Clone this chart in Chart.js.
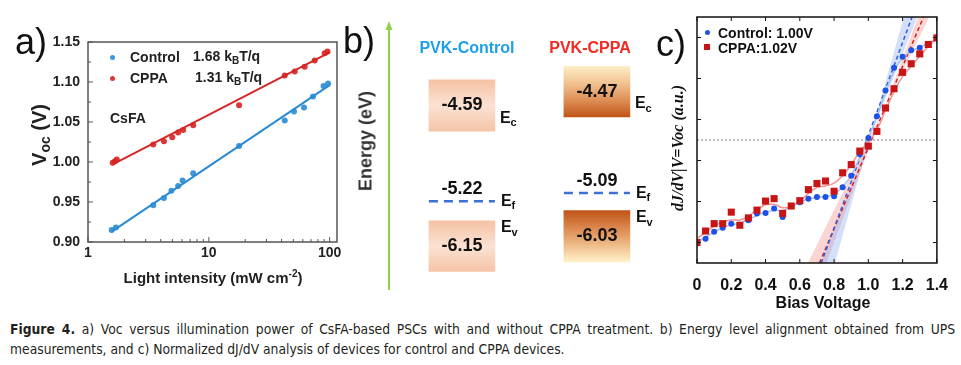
<!DOCTYPE html>
<html><head><meta charset="utf-8">
<script src="https://cdn.jsdelivr.net/npm/chart.js@4.4.0/dist/chart.umd.min.js"></script>
<style>
html,body{margin:0;padding:0;background:#fff;}
#wrap{position:relative;width:961px;height:365px;overflow:hidden;font-family:"Liberation Sans",Arial,sans-serif;color:#222;}
canvas{position:absolute;}
.t{position:absolute;white-space:nowrap;line-height:normal;}
.cap{position:absolute;left:10px;white-space:nowrap;line-height:normal;font-family:"Liberation Sans Narrow","DejaVu Sans Condensed","Liberation Sans",sans-serif;font-size:14px;color:#231f20;}
</style></head><body>
<div id="wrap">
<canvas id="ca" width="345" height="300" style="left:0;top:0"></canvas>
<canvas id="cb" width="330" height="300" style="left:340px;top:0"></canvas>
<canvas id="cc" width="301" height="320" style="left:660px;top:0"></canvas>
<div id="cap1" class="cap" style="top:321px"><b>Figure 4.</b> a) Voc versus illumination power of CsFA-based PSCs with and without CPPA treatment. b) Energy level alignment obtained from UPS</div>
<div id="cap2" class="cap" style="top:341px">measurements, and c) Normalized dJ/dV analysis of devices for control and CPPA devices.</div>
</div>
<script>
// ---------- Panel a data: Voc vs light intensity ----------
const ctrlIntensity = [1.57, 1.70, 3.47, 4.25, 4.90, 5.57, 6.06, 7.42, 17.8, 42.5, 50.7, 61.3, 72.8, 89, 97];
const ctrlVoc       = [0.915, 0.918, 0.946, 0.955, 0.964, 0.970, 0.977, 0.986, 1.020, 1.052, 1.063, 1.068, 1.082, 1.095, 1.098];
const cppaIntensity = [1.60, 1.67, 1.73, 3.47, 4.25, 4.98, 5.57, 6.13, 7.42, 17.8, 42.5, 51.4, 62.1, 75.2, 91, 96];
const cppaVoc       = [0.999, 1.001, 1.003, 1.022, 1.026, 1.031, 1.037, 1.040, 1.046, 1.071, 1.108, 1.113, 1.119, 1.127, 1.136, 1.138];
const ctrlFitI = [1.57, 100], ctrlFitV = [0.913, 1.096];
const cppaFitI = [1.60, 100], cppaFitV = [0.997, 1.137];
const intensityTickLabels = [1, 10, 100];

// ---------- Panel b data: energy levels ----------
const devices = ['PVK-Control', 'PVK-CPPA'];
const devicePos = [0.5, 1.5];
const ecValues = [-4.59, -4.47];
const efValues = [-5.22, -5.09];
const evValues = [-6.15, -6.03];
// schematic drawing levels (diagram scale)
const ecBoxTop = [-4.56, -4.43], ecBoxBottom = [-5.06, -4.92];
const efLevel  = [-5.74, -5.66];
const evBoxTop = [-5.93, -5.83], evBoxBottom = [-6.42, -6.33];

// ---------- Panel c data: dJ/dV ----------
const biasVoltage = [0,0.05,0.10,0.15,0.20,0.25,0.30,0.35,0.40,0.45,0.50,0.55,0.60,0.65,0.70,0.75,0.80,0.85,0.90,0.95,1.00,1.05,1.10,1.15,1.20,1.25,1.30,1.35,1.40];
const cppaDJ = [0.00,0.28,0.46,0.46,0.74,0.42,0.60,0.79,1.01,1.07,0.71,0.89,1.02,1.29,1.44,1.50,1.25,1.70,1.90,2.23,2.35,2.71,3.28,3.75,4.15,4.36,4.60,4.83,4.99];
const ctrlDJ = [null,0.09,0.26,0.36,0.46,0.43,0.54,0.71,0.72,0.83,0.62,0.89,0.98,1.07,1.11,1.11,1.13,1.35,1.63,2.15,2.55,3.08,3.71,4.26,4.53,4.69,4.75,null,null];
const cppaSmooth = [0.10,0.25,0.40,0.50,0.55,0.55,0.64,0.80,0.92,0.93,0.85,0.88,1.00,1.20,1.34,1.38,1.45,1.63,1.90,2.22,2.45,2.75,3.22,3.68,4.05,4.30,4.55,4.78,4.98];
const ctrlSmooth = [0.00,0.13,0.26,0.36,0.43,0.47,0.56,0.66,0.74,0.78,0.78,0.87,0.98,1.06,1.10,1.12,1.18,1.36,1.64,2.08,2.55,3.07,3.66,4.18,4.50,4.67,4.76,4.86,4.97];
const ctrlTangentV = [0.725, 1.255], ctrlTangentY = [-0.5, 5.5];
const cppaTangentV = [0.715, 1.322], cppaTangentY = [-0.5, 5.5];
const ctrlBandV = [0.725, 1.285, 1.207, 0.805], ctrlBandY = [-0.5, 5.5, 5.5, -0.5];
const cppaBandV = [0.648, 1.355, 1.290, 0.755], cppaBandY = [-0.5, 5.5, 5.5, -0.5];
const vocRefV = [0, 1.4], vocRefY = [2.5, 2.5];
const biasTickValues = [0, 0.2, 0.4, 0.6, 0.8, 1.0, 1.2, 1.4];
const djTickValues = [0, 1, 2, 3, 4, 5];

const pts = (xs, ys) => xs.map((x, i) => ({x, y: ys[i]})).filter(p => p.y !== null);

Chart.defaults.font.family = '"Liberation Sans", Arial, sans-serif';
Chart.defaults.color = '#222';

function frameTicks(o) {
  return {
    id: 'frameTicks',
    afterDatasetsDraw(chart) {
      const {ctx, chartArea: a, scales} = chart;
      ctx.save();
      ctx.strokeStyle = o.color;
      ctx.lineWidth = o.width;
      ctx.strokeRect(a.left, a.top, a.right - a.left, a.bottom - a.top);
      ctx.lineWidth = o.tickWidth;
      ctx.beginPath();
      for (const t of scales.x.ticks) {
        const len = o.xLen(t.value);
        if (!len) continue;
        const p = scales.x.getPixelForValue(t.value);
        ctx.moveTo(p, a.bottom); ctx.lineTo(p, a.bottom - len);
        if (o.mirror) { ctx.moveTo(p, a.top); ctx.lineTo(p, a.top + len); }
      }
      for (const t of scales.y.ticks) {
        const len = o.yLen(t.value);
        if (!len) continue;
        const p = scales.y.getPixelForValue(t.value);
        ctx.moveTo(a.left, p); ctx.lineTo(a.left + len, p);
        if (o.mirror) { ctx.moveTo(a.right, p); ctx.lineTo(a.right - len, p); }
      }
      ctx.stroke();
      ctx.restore();
    }
  };
}
const noInteract = {responsive: false, animation: false, events: []};

// ---------------- Chart a ----------------
new Chart(document.getElementById('ca'), {
  type: 'scatter',
  data: {datasets: [
    {data: pts(ctrlIntensity, ctrlVoc), pointRadius: 3, backgroundColor: 'rgba(40,140,212,0.9)', borderWidth: 0, order: 0},
    {data: pts(cppaIntensity, cppaVoc), pointRadius: 3, backgroundColor: 'rgba(214,34,34,0.9)', borderWidth: 0, order: 0},
    {data: pts(ctrlFitI, ctrlFitV), showLine: true, pointRadius: 0, borderColor: '#2a8bd4', borderWidth: 2, order: 1},
    {data: pts(cppaFitI, cppaFitV), showLine: true, pointRadius: 0, borderColor: '#d62828', borderWidth: 2, order: 1}
  ]},
  options: Object.assign({}, noInteract, {
    layout: {padding: {top: 42, right: 8, left: 0, bottom: 0}},
    plugins: {legend: {display: false}, tooltip: {enabled: false}},
    scales: {
      x: {type: 'logarithmic', min: 1, max: 115,
          grid: {display: false, drawTicks: false}, border: {display: false},
          afterFit: s => { s.height = 58; },
          ticks: {autoSkip: false, maxRotation: 0, padding: 3, color: '#222', font: {size: 14, weight: 'bold'},
                  callback: v => intensityTickLabels.some(t => Math.abs(t - v) < 1e-9) ? String(Math.round(v)) : ''}},
      y: {min: 0.9, max: 1.15,
          grid: {display: false, drawTicks: false}, border: {display: false},
          afterFit: s => { s.width = 88; },
          ticks: {stepSize: 0.025, autoSkip: false, padding: 8, color: '#222', font: {size: 14, weight: 'bold'},
                  callback: v => { const k = Math.round(v * 1000); return k % 50 === 0 ? (k / 1000).toFixed(2) : ''; }}}
    }
  }),
  plugins: [frameTicks({color: '#555', width: 1.5, tickWidth: 1, mirror: false,
    xLen: v => { const e = Math.pow(10, Math.floor(Math.log10(v) + 1e-9)); const m = v / e;
                 if (Math.abs(m - 1) < 1e-6) return 5; if (Math.abs(m - Math.round(m)) < 1e-6) return 3; return 0; },
    yLen: v => { const k = Math.round(v * 1000); return k % 50 === 0 ? 5 : 3; }})]
});

// ---------------- Chart b ----------------
const boxHalf = 0.2444;
function boxFill(kind) {
  return c => {
    const chart = c.chart;
    if (!chart.chartArea || c.type !== 'data') return '#f8d3bd';
    const ys = chart.scales.y;
    const y0 = ys.getPixelForValue(c.raw.y[1]), y1 = ys.getPixelForValue(c.raw.y[0]);
    const g = chart.ctx.createLinearGradient(0, y0, 0, y1);
    if (c.dataIndex === 0) {
      g.addColorStop(0, '#f5c2a4'); g.addColorStop(0.5, '#fbe2d3'); g.addColorStop(1, '#f5c4a7');
    } else if (kind === 'c') {
      g.addColorStop(0, '#fdeec8'); g.addColorStop(0.35, '#f0c08e'); g.addColorStop(0.7, '#dc8a50'); g.addColorStop(1, '#bf5418');
    } else {
      g.addColorStop(0, '#bf5418'); g.addColorStop(0.35, '#dc8a50'); g.addColorStop(0.7, '#f0c08e'); g.addColorStop(1, '#fff3cc');
    }
    return g;
  };
}
const energyPlugin = {
  id: 'energyLabels',
  afterDatasetsDraw(chart) {
    const {ctx, chartArea: a, scales: {x: xs, y: ys}} = chart;
    ctx.save();
    // energy arrow
    ctx.strokeStyle = '#8ed24c'; ctx.fillStyle = '#8ed24c'; ctx.lineWidth = 2;
    ctx.beginPath(); ctx.moveTo(a.left, a.bottom); ctx.lineTo(a.left, a.top + 6); ctx.stroke();
    ctx.beginPath(); ctx.moveTo(a.left, a.top - 1); ctx.lineTo(a.left - 3.5, a.top + 8); ctx.lineTo(a.left + 3.5, a.top + 8); ctx.closePath(); ctx.fill();
    ctx.fillStyle = '#111'; ctx.textBaseline = 'middle';
    const sub = (main, s, x, y) => {
      ctx.textAlign = 'left';
      ctx.font = 'bold 16px "Liberation Sans", Arial';
      ctx.fillText(main, x, y);
      const w = ctx.measureText(main).width;
      ctx.font = 'bold 11px "Liberation Sans", Arial';
      ctx.fillText(s, x + w, y + 5);
    };
    devices.forEach((d, i) => {
      const cx = xs.getPixelForValue(devicePos[i]);
      const right = xs.getPixelForValue(devicePos[i] + boxHalf);
      const ecT = ys.getPixelForValue(ecBoxTop[i]), ecB = ys.getPixelForValue(ecBoxBottom[i]);
      const evT = ys.getPixelForValue(evBoxTop[i]), evB = ys.getPixelForValue(evBoxBottom[i]);
      const ef = ys.getPixelForValue(efLevel[i]);
      ctx.font = 'bold 18px "Liberation Sans", Arial';
      ctx.textAlign = 'center';
      ctx.fillText(ecValues[i].toFixed(2), cx, (ecT + ecB) / 2);
      ctx.fillText(evValues[i].toFixed(2), cx, (evT + evB) / 2);
      ctx.fillText(efValues[i].toFixed(2), cx, ef - 12);
      sub('E', 'c', right + 5, ecB - 13);
      sub('E', 'f', right + 6, ef);
      sub('E', 'v', right + 6, evT + 7);
    });
    ctx.restore();
  }
};
new Chart(document.getElementById('cb'), {
  type: 'bar',
  data: {datasets: [
    {data: devicePos.map((x, i) => ({x, y: [ecBoxBottom[i], ecBoxTop[i]]})), backgroundColor: boxFill('c'), barThickness: 66, grouped: false, borderWidth: 0, borderSkipped: false},
    {data: devicePos.map((x, i) => ({x, y: [evBoxBottom[i], evBoxTop[i]]})), backgroundColor: boxFill('v'), barThickness: 66, grouped: false, borderWidth: 0, borderSkipped: false},
    ...devicePos.map((x, i) => ({type: 'line', data: [{x: x - boxHalf, y: efLevel[i]}, {x: x + boxHalf, y: efLevel[i]}],
      borderColor: '#3d6fd4', borderWidth: 2.5, borderDash: [9, 6], pointRadius: 0}))
  ]},
  options: Object.assign({}, noInteract, {
    layout: {padding: {left: 49, right: 11, top: 22, bottom: 10}},
    plugins: {legend: {display: false}, tooltip: {enabled: false}},
    scales: {
      x: {type: 'linear', min: -0.04, max: 1.96, display: false, offset: false},
      y: {min: -6.6, max: -4.0, display: false}
    }
  }),
  plugins: [energyPlugin]
});

// ---------------- Chart c ----------------
new Chart(document.getElementById('cc'), {
  type: 'scatter',
  data: {datasets: [
    {data: pts(biasVoltage, cppaDJ), pointStyle: 'rect', pointRadius: 5, backgroundColor: '#c81414', borderWidth: 0, order: 0},
    {data: pts(biasVoltage, ctrlDJ), pointRadius: 3, backgroundColor: '#1f50e8', borderWidth: 0, order: 1},
    {data: pts(biasVoltage, cppaSmooth), showLine: true, tension: 0.4, pointRadius: 0, borderColor: '#f29292', borderWidth: 1.5, order: 2},
    {data: pts(biasVoltage, ctrlSmooth), showLine: true, tension: 0.4, pointRadius: 0, borderColor: '#a6c1f4', borderWidth: 1.5, order: 2},
    {data: pts(ctrlTangentV, ctrlTangentY), showLine: true, pointRadius: 0, borderColor: '#2a5fe0', borderWidth: 1.5, borderDash: [4, 3], order: 3},
    {data: pts(cppaTangentV, cppaTangentY), showLine: true, pointRadius: 0, borderColor: '#d42020', borderWidth: 1.5, borderDash: [4, 3], order: 3},
    {data: pts(ctrlBandV, ctrlBandY), showLine: true, pointRadius: 0, borderWidth: 0, borderColor: 'rgba(0,0,0,0)', fill: 'shape', backgroundColor: 'rgba(120,160,240,0.32)', order: 4},
    {data: pts(cppaBandV, cppaBandY), showLine: true, pointRadius: 0, borderWidth: 0, borderColor: 'rgba(0,0,0,0)', fill: 'shape', backgroundColor: 'rgba(238,125,115,0.32)', order: 4},
    {data: pts(vocRefV, vocRefY), showLine: true, pointRadius: 0, borderColor: '#808080', borderWidth: 1, borderDash: [2, 2], order: 5}
  ]},
  options: Object.assign({}, noInteract, {
    layout: {padding: {left: 0, right: 20, top: 17, bottom: 0}},
    plugins: {legend: {display: false}, tooltip: {enabled: false}},
    scales: {
      x: {type: 'linear', min: 0, max: 1.4,
          grid: {display: false, drawTicks: false}, border: {display: false},
          afterFit: s => { s.height = 57; },
          afterBuildTicks: s => { s.ticks = biasTickValues.map(v => ({value: v})); },
          ticks: {autoSkip: false, maxRotation: 0, padding: 13, color: '#111', font: {size: 16, weight: 'bold'},
                  callback: v => Math.abs(v) < 1e-9 ? '0' : Number(v).toFixed(1)}},
      y: {min: -0.5, max: 5.5,
          grid: {display: false, drawTicks: false}, border: {display: false},
          afterFit: s => { s.width = 37; },
          afterBuildTicks: s => { s.ticks = djTickValues.map(v => ({value: v})); },
          ticks: {display: false}}
    }
  }),
  plugins: [frameTicks({color: '#111', width: 1.5, tickWidth: 1, mirror: true, xLen: v => 4, yLen: v => 4})]
});

// ---------------- Text overlays ----------------
const wrap = document.getElementById('wrap');
function txt(html, x, y, css, anchor, rot) {
  const d = document.createElement('div');
  d.className = 't';
  d.innerHTML = html;
  d.style.cssText += css;
  d.style.left = x + 'px'; d.style.top = y + 'px';
  const tx = anchor === 'left' ? '0' : '-50%';
  d.style.transform = `translate(${tx},-50%)` + (rot ? ' rotate(-90deg)' : '');
  wrap.appendChild(d);
  return d;
}
const B = 'font-weight:bold;';
// panel letters
txt('a)', 31, 42, 'font-size:36px;color:#111;');
txt('b)', 359, 41, 'font-size:36px;color:#111;');
txt('c)', 671, 44, 'font-size:36px;color:#111;');
// panel a
txt('V<span style="font-size:14px;vertical-align:-4px">oc</span> (V)', 40, 135, B + 'font-size:20px;', 'center', true);
txt('Light intensity (mW cm<span style="font-size:10px;vertical-align:6px">-2</span>)', 213, 277, B + 'font-size:15px;');
const dot = (x, y, r, col, sq) => { const d = document.createElement('div');
  d.style.cssText = `position:absolute;left:${x - r}px;top:${y - r}px;width:${2*r}px;height:${2*r}px;background:${col};border-radius:${sq ? 0 : '50%'}`;
  wrap.appendChild(d); };
dot(112, 57, 2.5, 'rgba(40,140,212,0.9)');
dot(112, 78, 2.5, 'rgba(214,34,34,0.9)');
const kbt = 'k<span style="font-size:10px;vertical-align:-3px">B</span>T/q';
txt('Control', 130, 57, B + 'font-size:14px;', 'left');
txt('1.68 ' + kbt, 193, 57, B + 'font-size:14px;', 'left');
txt('CPPA', 130, 78, B + 'font-size:14px;', 'left');
txt('1.31 ' + kbt, 195, 78, B + 'font-size:14px;', 'left');
txt('CsFA', 110, 118, B + 'font-size:14px;', 'left');
// panel b
txt(devices[0], 467, 48, B + 'font-size:16px;color:#1ea0e8;');
txt(devices[1], 590, 48, B + 'font-size:16px;color:#f22a22;');
txt('Energy (eV)', 366, 141, B + 'font-size:18px;color:#333;', 'center', true);
// panel c
dot(707, 32, 2.5, '#1f50e8');
dot(707, 47, 3, '#c81414', true);
txt('Control: 1.00V', 718, 33, B + 'font-size:14px;color:#111;', 'left');
txt('CPPA:1.02V', 718, 48, B + 'font-size:14px;color:#111;', 'left');
txt('dJ/dV|V=Voc (a.u.)', 678, 148, 'font-family:"Liberation Serif","DejaVu Serif",serif;font-style:italic;font-weight:bold;font-size:16px;color:#111;', 'center', true);
txt('Bias Voltage', 823, 303, B + 'font-size:16px;color:#111;');

// caption fitting
function fitCaption() {
  const c1 = document.getElementById('cap1'), c2 = document.getElementById('cap2');
  c1.style.fontSize = c2.style.fontSize = '14px';
  c1.style.wordSpacing = '0px';
  const w2 = c2.getBoundingClientRect().width;
  const fs = 14 * 555 / w2;
  c1.style.fontSize = c2.style.fontSize = fs + 'px';
  const w1 = c1.getBoundingClientRect().width;
  const n = (c1.textContent.match(/ /g) || []).length;
  c1.style.wordSpacing = ((945 - w1) / n) + 'px';
}
fitCaption();
if (document.fonts && document.fonts.ready) document.fonts.ready.then(fitCaption);
</script>
</body></html>
